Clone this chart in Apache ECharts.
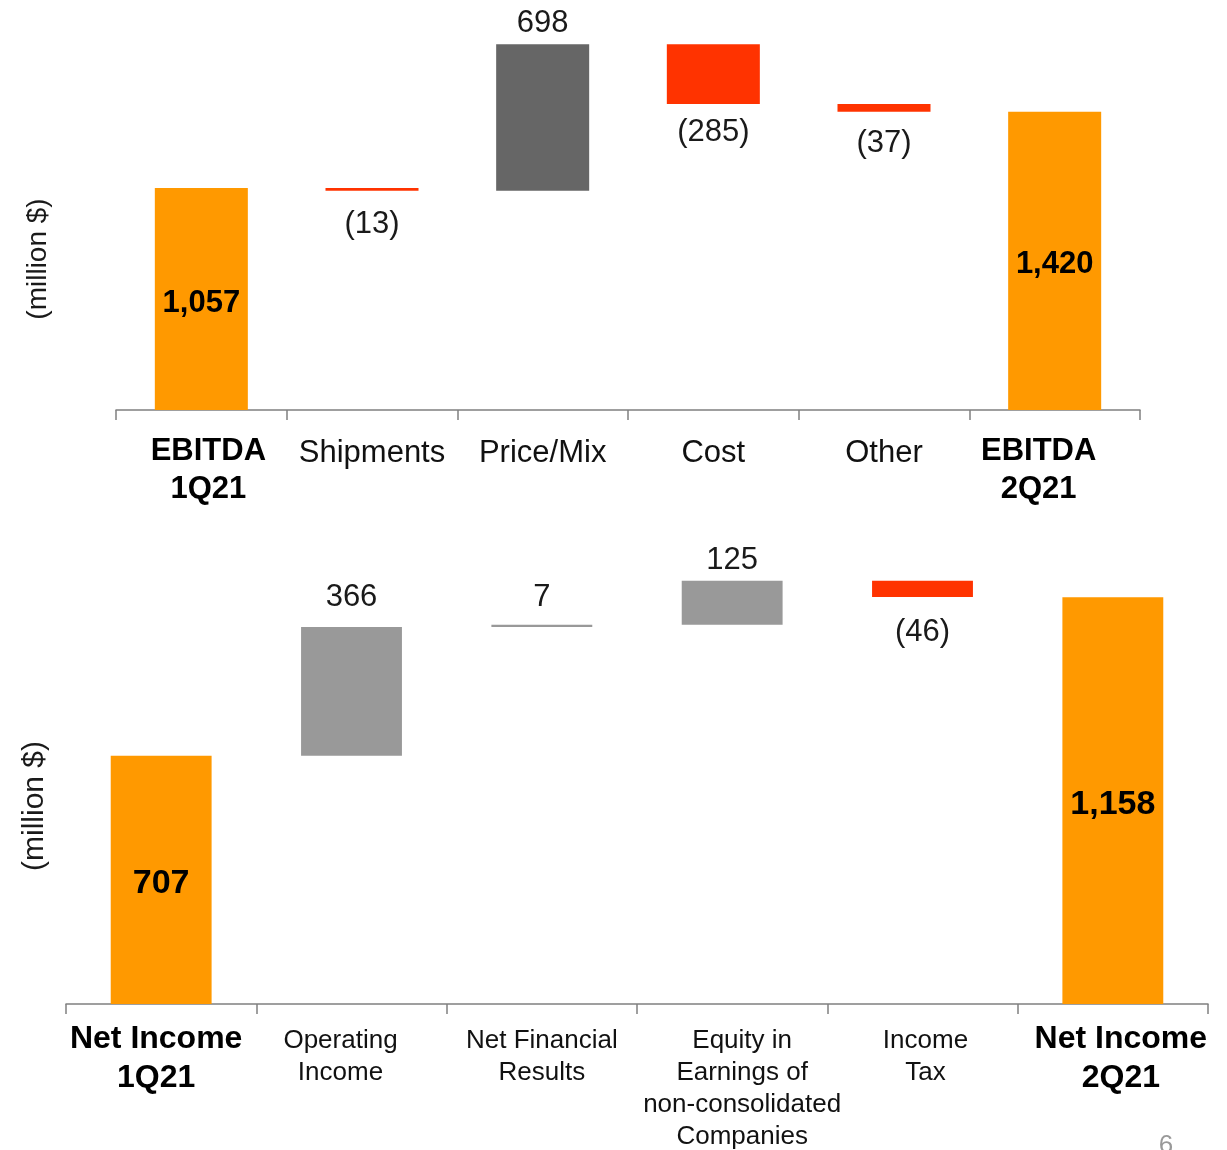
<!DOCTYPE html>
<html>
<head>
<meta charset="utf-8">
<script src="https://cdn.jsdelivr.net/npm/echarts@6/dist/echarts.min.js"></script>
<style>
  html, body { margin: 0; padding: 0; background: #fff; }
  #chart { width: 1227px; height: 1150px; }
</style>
</head>
<body>
<div id="chart"></div>
<script>
// EBITDA bridge, 1Q21 -> 2Q21 (million $)
const ebitdaCategories = ['EBITDA\n1Q21', 'Shipments', 'Price/Mix', 'Cost', 'Other', 'EBITDA\n2Q21'];
const ebitdaValues = [1057, -13, 698, -285, -37, 1420];
const ebitdaIsTotal = [true, false, false, false, false, true];

// Net income bridge, 1Q21 -> 2Q21 (million $)
const netIncomeCategories = ['Net Income\n1Q21', 'Operating\nIncome', 'Net Financial\nResults',
  'Equity in\nEarnings of\nnon-consolidated\nCompanies', 'Income\nTax', 'Net Income\n2Q21'];
const netIncomeValues = [707, 366, 7, 125, -46, 1158];
const netIncomeIsTotal = [true, false, false, false, false, true];

const ORANGE = '#FF9900';
const RED = '#FF3300';
const FONT = '"Liberation Sans", Arial, sans-serif';

function fmt(v) {
  const s = Math.abs(v).toLocaleString('en-US');
  return v < 0 ? '(' + s + ')' : s;
}

// Turns a list of deltas/totals into an invisible base and a visible segment
function waterfall(values, isTotal, riseColor, opts) {
  const base = [], seg = [];
  let running = 0;
  values.forEach((v, i) => {
    let b, h;
    if (isTotal[i]) { b = 0; h = v; running = v; }
    else if (v >= 0) { b = running; h = v; running += v; }
    else { running += v; b = running; h = -v; }
    base.push(b);
    const color = isTotal[i] ? ORANGE : (v >= 0 ? riseColor : RED);
    const label = isTotal[i]
      ? { position: 'inside', offset: [0, 4], fontWeight: 'bold', fontSize: opts.totalSize, color: '#000' }
      : { position: v >= 0 ? 'top' : 'bottom', distance: opts.dist[i], fontSize: opts.labelSize, color: '#1a1a1a' };
    seg.push({ value: h, itemStyle: { color }, label: Object.assign({ show: true, fontFamily: FONT, formatter: fmt(v) }, label) });
  });
  return { base, seg };
}

const ebitdaBridge = waterfall(ebitdaValues, ebitdaIsTotal, '#666666',
  { totalSize: 31, labelSize: 31, dist: [0, 18, 5, 13, 16, 0] });
const netIncomeBridge = waterfall(netIncomeValues, netIncomeIsTotal, '#999999',
  { totalSize: 34, labelSize: 31, dist: [0, 14, 12, 5, 20, 0] });

// Category label styling: one rich style per category so each label can be nudged sideways
function labelRich(isTotal, shifts, bold, normal, which) {
  const rich = {};
  isTotal.forEach((t, i) => {
    const s = shifts[i];
    rich['s' + i] = Object.assign({ padding: s >= 0 ? [0, 0, 0, 2 * s] : [0, -2 * s, 0, 0] }, t ? bold : normal);
  });
  return {
    rich,
    formatter: (val, idx) => {
      if (which === 'total' && !isTotal[idx]) return '';
      if (which === 'step' && isTotal[idx]) return '';
      return val.split('\n').map(l => '{s' + idx + '|' + l + '}').join('\n');
    }
  };
}

const boldStyle = { fontFamily: FONT, fontWeight: 'bold', fontSize: 31, lineHeight: 38, color: '#000' };
const topStep = { fontFamily: FONT, fontSize: 31, lineHeight: 42, color: '#111' };
const bottomBold = { fontFamily: FONT, fontWeight: 'bold', fontSize: 32, lineHeight: 39, color: '#000' };
const bottomStep = { fontFamily: FONT, fontSize: 26, lineHeight: 32, color: '#111' };

const ebitdaShift = [7, 0, 0, 0, 0, -16];
const netIncomeShift = [-5, -11, 0, 10, 3, 8];

const axisLineStyle = { color: '#808080', width: 1.5 };

const topLabels = labelRich(ebitdaIsTotal, ebitdaShift, boldStyle, topStep, 'all');
const bottomTotals = labelRich(netIncomeIsTotal, netIncomeShift, bottomBold, bottomStep, 'total');
const bottomSteps = labelRich(netIncomeIsTotal, netIncomeShift, bottomBold, bottomStep, 'step');

const chart = echarts.init(document.getElementById('chart'), null, { renderer: 'canvas' });
chart.setOption({
  animation: false,
  backgroundColor: '#fff',
  grid: [
    { left: 116, right: 87, top: 10, height: 400 },
    { left: 66, right: 19, top: 560, height: 445 }
  ],
  xAxis: [
    {
      gridIndex: 0, type: 'category', data: ebitdaCategories, position: 'bottom',
      axisLine: { show: true, lineStyle: axisLineStyle },
      axisTick: { show: true, length: 10, lineStyle: axisLineStyle },
      splitLine: { show: false },
      axisLabel: { show: true, interval: 0, margin: 22, formatter: topLabels.formatter, rich: topLabels.rich }
    },
    {
      gridIndex: 1, type: 'category', data: netIncomeCategories, position: 'bottom',
      axisLine: { show: true, lineStyle: axisLineStyle },
      axisTick: { show: true, length: 10, lineStyle: axisLineStyle },
      splitLine: { show: false },
      axisLabel: { show: true, interval: 0, margin: 16, formatter: bottomTotals.formatter, rich: bottomTotals.rich }
    },
    {
      gridIndex: 1, type: 'category', data: netIncomeCategories, position: 'bottom',
      axisLine: { show: false }, axisTick: { show: false }, splitLine: { show: false },
      axisLabel: { show: true, interval: 0, margin: 21, formatter: bottomSteps.formatter, rich: bottomSteps.rich }
    }
  ],
  yAxis: [
    { gridIndex: 0, type: 'value', min: 0, max: 1905, show: false },
    { gridIndex: 1, type: 'value', min: 0, max: 1264, show: false }
  ],
  series: [
    { type: 'bar', xAxisIndex: 0, yAxisIndex: 0, stack: 'ebitda', data: ebitdaBridge.base, barWidth: '54.5%',
      itemStyle: { color: 'transparent' }, silent: true },
    { type: 'bar', xAxisIndex: 0, yAxisIndex: 0, stack: 'ebitda', data: ebitdaBridge.seg, barWidth: '54.5%' },
    { type: 'bar', xAxisIndex: 1, yAxisIndex: 1, stack: 'net', data: netIncomeBridge.base, barWidth: '53%',
      itemStyle: { color: 'transparent' }, silent: true },
    { type: 'bar', xAxisIndex: 1, yAxisIndex: 1, stack: 'net', data: netIncomeBridge.seg, barWidth: '53%' }
  ],
  graphic: [
    { type: 'text', x: 38, y: 259, rotation: Math.PI / 2,
      style: { text: '(million $)', fontFamily: FONT, fontSize: 28, fill: '#1a1a1a', align: 'center', verticalAlign: 'middle' } },
    { type: 'text', x: 35, y: 806, rotation: Math.PI / 2,
      style: { text: '(million $)', fontFamily: FONT, fontSize: 30, fill: '#1a1a1a', align: 'center', verticalAlign: 'middle' } },
    { type: 'text', x: 1166, y: 1146,
      style: { text: '6', fontFamily: FONT, fontSize: 26, fill: '#999999', align: 'center', verticalAlign: 'middle' } }
  ]
});
</script>
</body>
</html>
